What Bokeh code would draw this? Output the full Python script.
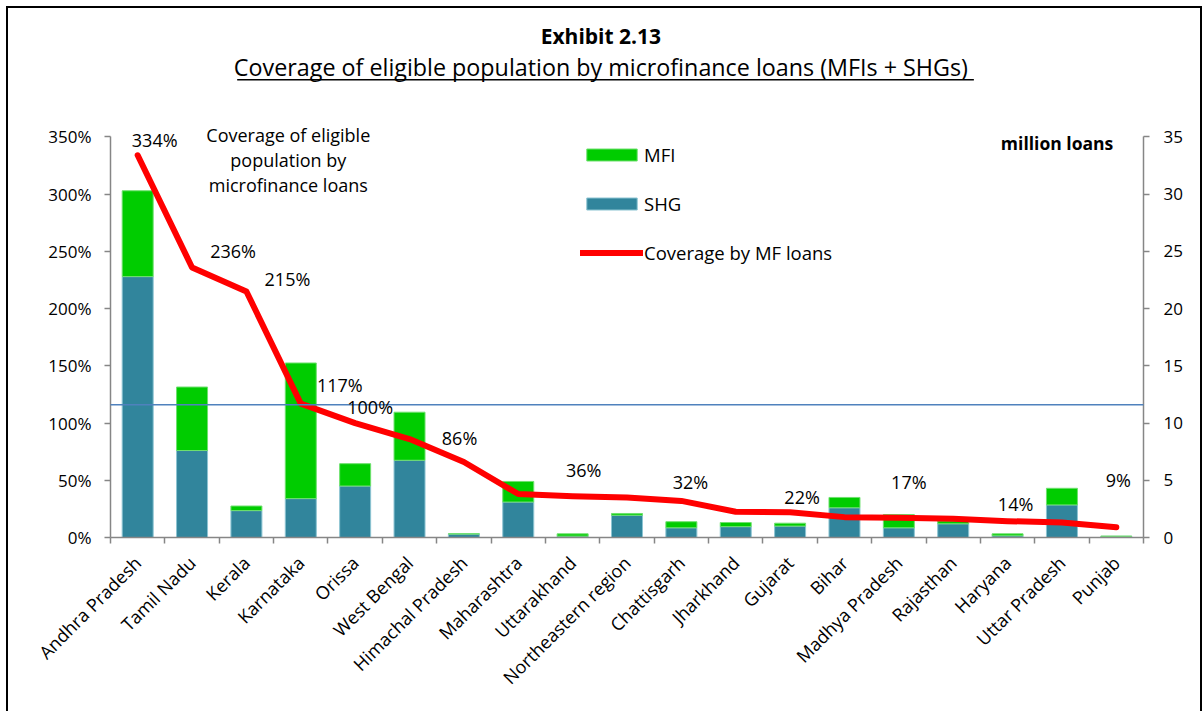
import math
from bokeh.plotting import figure
from bokeh.models import (Range1d, LinearAxis, FixedTicker, PrintfTickFormatter, Label,
                          Legend, LegendItem, Arrow, ColumnDataSource)
from bokeh.embed import file_html
from bokeh.resources import INLINE

# ---------------- data ----------------
states = ["Andhra Pradesh", "Tamil Nadu", "Kerala", "Karnataka", "Orissa", "West Bengal",
          "Himachal Pradesh", "Maharashtra", "Uttarakhand", "Northeastern region",
          "Chattisgarh", "Jharkhand", "Gujarat", "Bihar", "Madhya Pradesh", "Rajasthan",
          "Haryana", "Uttar Pradesh", "Punjab"]
shg_loans = [22.8, 7.6, 2.35, 3.4, 4.5, 6.75, 0.3, 3.1, 0.12, 1.95, 0.85, 0.95, 1.0,
             2.6, 0.85, 1.2, 0.15, 2.85, 0.1]          # million loans
mfi_loans = [7.5, 5.55, 0.4, 11.85, 1.95, 4.2, 0.03, 1.8, 0.2, 0.15, 0.53, 0.36, 0.25,
             0.9, 1.15, 0.25, 0.17, 1.45, 0.02]        # million loans
coverage = [334, 236, 215, 117, 100, 86, 66, 38, 36, 35, 32, 22.5, 22, 17.8, 17.2, 16.4,
            14.3, 13.2, 9]                              # percent
labelled = [0, 1, 2, 3, 4, 5, 8, 10, 12, 14, 16, 18]    # points that carry a % label
reference_level = 116                                   # horizontal reference line, %
pct_ticks = [0, 50, 100, 150, 200, 250, 300, 350]
loan_ticks = [0, 5, 10, 15, 20, 25, 30, 35]

# ---------------- style / layout ----------------
FONT = "Open Sans"
TEAL = "#31859C"
GREEN = "#00CC00"
RED = "#FF0000"
AXIS = "#868686"
label_offsets = {0: (17, -15), 1: (41, -16), 2: (41, -12), 3: (39, -19), 4: (15, -16),
                 5: (50, -1), 8: (11, -26), 10: (9, -19), 12: (12, -15), 14: (10, -36),
                 16: (8, -17), 18: (2, -47)}

CANVAS_H = 703
FRAME_BOTTOM = 176
PX_PER_PCT = 1.14
top_pct = (CANVAS_H - FRAME_BOTTOM) / PX_PER_PCT   # frame reaches the top of the canvas
ratio = pct_ticks[-1] / loan_ticks[-1]

n = len(states)
xs = list(range(n))
src = ColumnDataSource(dict(x=xs, shg=shg_loans, mfi=mfi_loans, cov=coverage))

p = figure(width=1196, height=CANVAS_H + 2, x_range=Range1d(-0.5, n - 0.5),
           y_range=Range1d(pct_ticks[0], top_pct),
           output_backend="svg", toolbar_location=None,
           min_border_left=102, min_border_right=61, min_border_top=0,
           min_border_bottom=FRAME_BOTTOM,
           styles={"margin-left": "6px", "margin-top": "6px",
                   "border-left": "2px solid black", "border-top": "2px solid black",
                   "border-right": "2px solid black"})
p.extra_y_ranges = {"loans": Range1d(loan_ticks[0], top_pct / ratio)}
p.xgrid.visible = False
p.ygrid.visible = False
p.outline_line_color = None
p.background_fill_color = "white"
p.border_fill_color = "white"

# bottom axis
xa = p.xaxis[0]
xa.ticker = FixedTicker(ticks=xs, minor_ticks=[i - 0.5 for i in range(n + 1)])
xa.major_label_overrides = {i: s for i, s in enumerate(states)}
xa.major_label_orientation = math.pi / 4
xa.major_tick_out = 0
xa.major_tick_in = 0
xa.minor_tick_out = 6
xa.minor_tick_in = 0
xa.minor_tick_line_color = AXIS
xa.minor_tick_line_width = 1.5
xa.major_label_standoff = 16

# left axis
ya = p.yaxis[0]
ya.ticker = FixedTicker(ticks=pct_ticks)
ya.formatter = PrintfTickFormatter(format="%d%%")
ya.bounds = (pct_ticks[0], pct_ticks[-1])
ya.major_tick_out = 6
ya.major_tick_in = 0
ya.minor_tick_line_color = None
ya.major_label_standoff = 13

# right axis
ra = LinearAxis(y_range_name="loans", ticker=FixedTicker(ticks=loan_ticks),
                bounds=(loan_ticks[0], loan_ticks[-1]))
ra.major_tick_out = 6
ra.major_tick_in = 0
ra.minor_tick_line_color = None
ra.major_label_standoff = 14
p.add_layout(ra, "right")

for ax in (xa, ya, ra):
    ax.axis_line_color = AXIS
    ax.axis_line_width = 1.5
    ax.major_tick_line_color = AXIS
    ax.major_tick_line_width = 1.5
    ax.major_label_text_font = FONT
    ax.major_label_text_font_size = "17px"
    ax.major_label_text_color = "black"
xa.major_label_text_font_size = "18px"

# bars
bars = p.vbar_stack(["shg", "mfi"], x="x", width=0.57, source=src,
                    fill_color=[TEAL, GREEN], line_color=["#8CC4D2", "#6EE06E"],
                    line_width=1, y_range_name="loans")

# reference line
p.add_layout(Arrow(end=None, x_start=-0.75, y_start=reference_level,
                   x_end=n - 0.04, y_end=reference_level,
                   line_color="#4F81BD", line_width=1.5))

# coverage line
ln = p.line("x", "cov", source=src, line_color=RED, line_width=6,
            line_join="round", line_cap="round")

# value labels
for i in labelled:
    dx, dy = label_offsets[i]
    p.add_layout(Label(x=i, y=coverage[i], x_offset=dx, y_offset=-dy,
                       text=f"{round(coverage[i])}%", text_font=FONT,
                       text_font_size="18px", text_align="center",
                       text_baseline="middle", text_color="black"))

# in-plot note
p.add_layout(Label(x=2.77, y=330, text="Coverage of eligible\npopulation by\nmicrofinance loans",
                   text_font=FONT, text_font_size="18px", text_align="center",
                   text_baseline="middle", text_line_height=1.05, text_color="black"))

# unit label for right axis
p.add_layout(Label(x=16.91, y=345, text="million loans", text_font=FONT,
                   text_font_size="17.5px", text_font_style="bold", text_align="center",
                   text_baseline="middle", text_color="black"))

# titles
p.add_layout(Label(x=8.52, y=438.5, text="Exhibit 2.13", text_font=FONT,
                   text_font_size="21px", text_font_style="bold", text_align="center",
                   text_baseline="middle", text_color="black"))
p.add_layout(Label(x=8.52, y=411.5, text="Coverage of eligible population by microfinance loans (MFIs + SHGs)",
                   text_font=FONT, text_font_size="23.3px", text_align="center",
                   text_baseline="middle", text_color="black"))
p.add_layout(Arrow(end=None, x_start=1.83, y_start=400, x_end=15.38, y_end=400,
                   line_color="black", line_width=1.5))

# legend
legend = Legend(items=[LegendItem(label="MFI", renderers=[bars[1]]),
                       LegendItem(label="SHG", renderers=[bars[0]]),
                       LegendItem(label="Coverage by MF loans", renderers=[ln])],
                location=(470, 272), orientation="vertical",
                glyph_width=63, glyph_height=15, label_height=20, spacing=24,
                label_standoff=1, padding=0, margin=0,
                border_line_color=None, background_fill_alpha=0,
                label_text_font=FONT, label_text_font_size="18.5px",
                label_text_color="black")
p.add_layout(legend)

open("out.html", "w").write(file_html(p, INLINE))
